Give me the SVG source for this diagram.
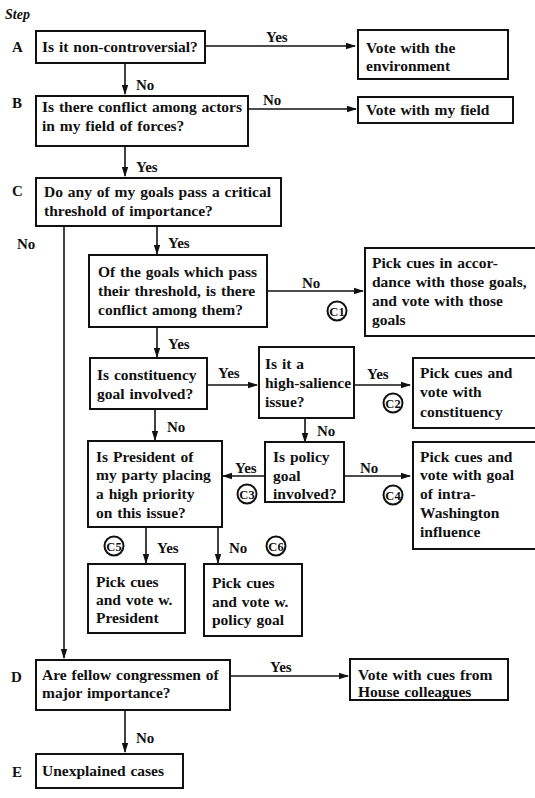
<svg xmlns="http://www.w3.org/2000/svg" width="535" height="798" viewBox="0 0 535 798">
<style>
.bx{fill:#fff;stroke:#111;stroke-width:2}
.t{font-family:"Liberation Serif","DejaVu Serif",serif;font-weight:bold;font-size:15.5px;fill:#111;word-spacing:1px}
.lb{font-family:"Liberation Serif","DejaVu Serif",serif;font-weight:bold;font-size:15px;fill:#111}
.st{font-family:"Liberation Serif","DejaVu Serif",serif;font-weight:bold;font-style:italic;font-size:14px;fill:#111}
.c{fill:none;stroke:#111;stroke-width:1.6}
.ci{fill:#fff;stroke:#111;stroke-width:2}
.ct{font-family:"Liberation Serif","DejaVu Serif",serif;font-weight:bold;font-size:12.5px;fill:#111;text-anchor:middle}
</style>
<defs>
<marker id="ah" markerWidth="10" markerHeight="8" refX="9" refY="4" orient="auto" markerUnits="userSpaceOnUse">
<path d="M0,0.8 L10,4 L0,7.2 Z" fill="#111"/>
</marker>
</defs>
<rect width="535" height="798" fill="#fff"/>
<text class="st" x="5" y="19">Step</text>
<text class="lb" x="12" y="52">A</text>
<text class="lb" x="12" y="108">B</text>
<text class="lb" x="12" y="196">C</text>
<text class="lb" x="11" y="682">D</text>
<text class="lb" x="12" y="777">E</text>

<g id="connectors">
<path class="c" d="M205,46 H355" marker-end="url(#ah)"/>
<path class="c" d="M125,63 V94" marker-end="url(#ah)"/>
<path class="c" d="M248,109 H356" marker-end="url(#ah)"/>
<path class="c" d="M125,146 V176" marker-end="url(#ah)"/>
<path class="c" d="M64,226 V658" marker-end="url(#ah)"/>
<path class="c" d="M157,226 V254" marker-end="url(#ah)"/>
<path class="c" d="M267,291 H363" marker-end="url(#ah)"/>
<path class="c" d="M157,327 V357" marker-end="url(#ah)"/>
<path class="c" d="M207,385 H257" marker-end="url(#ah)"/>
<path class="c" d="M354,385 H410" marker-end="url(#ah)"/>
<path class="c" d="M155,409 V440" marker-end="url(#ah)"/>
<path class="c" d="M305,418 V442" marker-end="url(#ah)"/>
<path class="c" d="M265,476 H223" marker-end="url(#ah)"/>
<path class="c" d="M344,476 H410" marker-end="url(#ah)"/>
<path class="c" d="M146,527 V563" marker-end="url(#ah)"/>
<path class="c" d="M218,527 V563" marker-end="url(#ah)"/>
<path class="c" d="M230,676 H348" marker-end="url(#ah)"/>
<path class="c" d="M125,710 V752" marker-end="url(#ah)"/>
<text class="lb" x="266" y="42">Yes</text>
<text class="lb" x="136" y="90">No</text>
<text class="lb" x="263" y="105">No</text>
<text class="lb" x="136" y="172">Yes</text>
<text class="lb" x="17" y="249">No</text>
<text class="lb" x="168" y="248">Yes</text>
<text class="lb" x="302" y="288">No</text>
<text class="lb" x="168" y="349">Yes</text>
<text class="lb" x="218" y="378">Yes</text>
<text class="lb" x="367" y="379">Yes</text>
<text class="lb" x="167" y="432">No</text>
<text class="lb" x="317" y="436">No</text>
<text class="lb" x="235" y="473">Yes</text>
<text class="lb" x="360" y="473">No</text>
<text class="lb" x="157" y="553">Yes</text>
<text class="lb" x="229" y="553">No</text>
<text class="lb" x="270" y="672">Yes</text>
<text class="lb" x="136" y="743">No</text>
<circle class="ci" cx="337" cy="311" r="9.5"/><text class="ct" x="337" y="315.5">C1</text>
<circle class="ci" cx="393" cy="403" r="9.5"/><text class="ct" x="393" y="407.5">C2</text>
<circle class="ci" cx="247" cy="494" r="9.5"/><text class="ct" x="247" y="498.5">C3</text>
<circle class="ci" cx="393" cy="495" r="9.5"/><text class="ct" x="393" y="499.5">C4</text>
<circle class="ci" cx="114" cy="546" r="9.5"/><text class="ct" x="114" y="550.5">C5</text>
<circle class="ci" cx="276" cy="546" r="9.5"/><text class="ct" x="276" y="550.5">C6</text>
</g>

<g id="nodeA"><rect class="bx" x="36" y="31" width="169" height="32"/><text class="t" x="42" y="52">Is it non-controversial?</text></g>
<g id="nodeEnv"><rect class="bx" x="358" y="30" width="150" height="49"/><text class="t" x="366" y="53">Vote with the</text><text class="t" x="366" y="71">environment</text></g>
<g id="nodeB"><rect class="bx" x="36" y="96" width="212" height="50"/><text class="t" x="42" y="112">Is there conflict among actors</text><text class="t" x="42" y="131">in my field of forces?</text></g>
<g id="nodeField"><rect class="bx" x="358" y="97" width="155" height="26"/><text class="t" x="366" y="115">Vote with my field</text></g>
<g id="nodeC"><rect class="bx" x="36" y="178" width="245" height="48"/><text class="t" x="44" y="197">Do any of my goals pass a critical</text><text class="t" x="44" y="216">threshold of importance?</text></g>
<g id="nodeQ1"><rect class="bx" x="89" y="255" width="178" height="72"/><text class="t" x="98" y="277">Of the goals which pass</text><text class="t" x="98" y="296">their threshold, is there</text><text class="t" x="98" y="315">conflict among them?</text></g>
<g id="nodeC1"><rect class="bx" x="365" y="248" width="175" height="88"/><text class="t" x="372" y="268">Pick cues in accor-</text><text class="t" x="372" y="287">dance with those goals,</text><text class="t" x="372" y="306">and vote with those</text><text class="t" x="372" y="325">goals</text></g>
<g id="nodeQ2"><rect class="bx" x="90" y="358" width="117" height="51"/><text class="t" x="97" y="380">Is constituency</text><text class="t" x="97" y="399">goal involved?</text></g>
<g id="nodeQ3"><rect class="bx" x="259" y="347" width="95" height="71"/><text class="t" x="265" y="369">Is it a</text><text class="t" x="265" y="388">high-salience</text><text class="t" x="265" y="407">issue?</text></g>
<g id="nodeC2"><rect class="bx" x="413" y="358" width="127" height="70"/><text class="t" x="420" y="378">Pick cues and</text><text class="t" x="420" y="397">vote with</text><text class="t" x="420" y="417">constituency</text></g>
<g id="nodeQ4"><rect class="bx" x="88" y="441" width="134" height="86"/><text class="t" x="96" y="462">Is President of</text><text class="t" x="96" y="480">my party placing</text><text class="t" x="96" y="499">a high priority</text><text class="t" x="96" y="518">on this issue?</text></g>
<g id="nodeQ5"><rect class="bx" x="265" y="442" width="79" height="60"/><text class="t" x="273" y="462">Is policy</text><text class="t" x="273" y="481">goal</text><text class="t" x="273" y="499">involved?</text></g>
<g id="nodeC4"><rect class="bx" x="413" y="442" width="127" height="107"/><text class="t" x="420" y="462">Pick cues and</text><text class="t" x="420" y="480">vote with goal</text><text class="t" x="420" y="499">of intra-</text><text class="t" x="420" y="518">Washington</text><text class="t" x="420" y="537">influence</text></g>
<g id="nodeP1"><rect class="bx" x="88" y="564" width="97" height="69"/><text class="t" x="96" y="587">Pick cues</text><text class="t" x="96" y="605">and vote w.</text><text class="t" x="96" y="623">President</text></g>
<g id="nodeP2"><rect class="bx" x="204" y="564" width="98" height="72"/><text class="t" x="212" y="588">Pick cues</text><text class="t" x="212" y="607">and vote w.</text><text class="t" x="212" y="625">policy goal</text></g>
<g id="nodeD"><rect class="bx" x="36" y="660" width="194" height="50"/><text class="t" x="42" y="680">Are fellow congressmen of</text><text class="t" x="42" y="698">major importance?</text></g>
<g id="nodeHouse"><rect class="bx" x="350" y="659" width="158" height="41"/><text class="t" x="358" y="680">Vote with cues from</text><text class="t" x="358" y="697">House colleagues</text></g>
<g id="nodeE"><rect class="bx" x="36" y="754" width="147" height="34"/><text class="t" x="42" y="776">Unexplained cases</text></g>
</svg>
